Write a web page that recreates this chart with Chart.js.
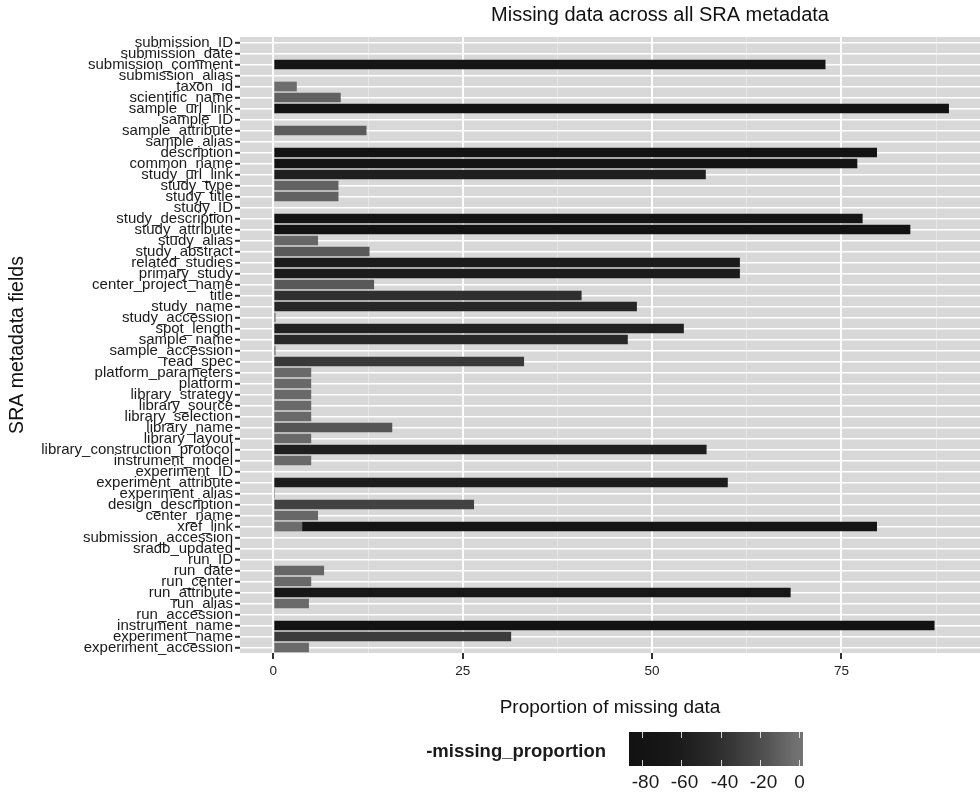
<!DOCTYPE html>
<html>
<head>
<meta charset="utf-8">
<script src="https://cdn.jsdelivr.net/npm/chart.js@4/dist/chart.umd.min.js"></script>
<style>
  body { margin: 0; background: #fff; }
  #wrap { position: relative; width: 980px; height: 795px; }
</style>
</head>
<body>
<div id="wrap"><canvas id="missing_chart"></canvas></div>
<script>
// data
const fields = [
  'submission_ID', 'submission_date', 'submission_comment', 'submission_alias', 'taxon_id',
  'scientific_name', 'sample_url_link', 'sample_ID', 'sample_attribute', 'sample_alias',
  'description', 'common_name', 'study_url_link', 'study_type', 'study_title',
  'study_ID', 'study_description', 'study_attribute', 'study_alias', 'study_abstract',
  'related_studies', 'primary_study', 'center_project_name', 'title', 'study_name',
  'study_accession', 'spot_length', 'sample_name', 'sample_accession', 'read_spec',
  'platform_parameters', 'platform', 'library_strategy', 'library_source', 'library_selection',
  'library_name', 'library_layout', 'library_construction_protocol', 'instrument_model', 'experiment_ID',
  'experiment_attribute', 'experiment_alias', 'design_description', 'center_name', 'xref_link',
  'submission_accession', 'sradb_updated', 'run_ID', 'run_date', 'run_center',
  'run_attribute', 'run_alias', 'run_accession', 'instrument_name', 'experiment_name',
  'experiment_accession'
];

const missing = [
  0, 0, 72.9, 0, 3.1,
  8.9, 89.2, 0, 12.3, 0,
  79.7, 77.1, 57.1, 8.6, 8.6,
  0, 77.8, 84.1, 5.9, 12.7,
  61.6, 61.6, 13.3, 40.7, 48.0,
  0.3, 54.2, 46.8, 0.3, 33.1,
  5.0, 5.0, 5.0, 5.0, 5.0,
  15.7, 5.0, 57.2, 5.0, 0,
  60.0, 0.2, 26.5, 5.9, 3.8,
  0, 0, 0, 6.7, 5.0,
  68.3, 4.7, 0, 87.3, 31.4,
  4.7
];

// xref_link appears twice in the source table, second row stacks on the first
const missingExtra = fields.map(f => f === 'xref_link' ? 75.9 : null);

const xTicks      = [0, 25, 50, 75];
const legendTicks = [-80, -60, -40, -20, 0];

// colour scale for -missing_proportion
const maxMissing = 89.2;
const grayFor = (v) => {
    const t = Math.min(Math.max(v / maxMissing, 0), 1);
    const g = Math.round(18 + 98 * Math.pow(1 - t, 2));
    return `rgb(${g},${g},${g})`;
};

const FONT = "'Liberation Sans', Arial, sans-serif";

// panel background, title and colour bar
const decorations = {
    id: 'decorations',
    beforeDraw(chart){
        const {ctx, chartArea: a} = chart;
        ctx.save();
        ctx.fillStyle = '#d8d8d8';
        ctx.fillRect(a.left, a.top, a.right - a.left, a.bottom - a.top);
        ctx.restore();
    },
    afterDraw(chart){
        const ctx = chart.ctx;
        ctx.save();
        ctx.fillStyle = '#111';
        ctx.font = `20px ${FONT}`;
        ctx.textAlign = 'center';
        ctx.textBaseline = 'middle';
        ctx.fillText('Missing data across all SRA metadata', 660, 15);

        // colour bar
        const x0 = 629, x1 = 803, y0 = 732, y1 = 766;
        const zeroX = 799, pxPer = 1.959;
        const grad = ctx.createLinearGradient(x0, 0, x1, 0);
        for(let i = 0; i <= 20; i++){
            const f = i / 20;
            const x = x0 + f * (x1 - x0);
            const v = -(x - zeroX) / pxPer;
            grad.addColorStop(f, grayFor(v));
        }
        ctx.fillStyle = grad;
        ctx.fillRect(x0, y0, x1 - x0, y1 - y0);

        ctx.strokeStyle = 'rgba(255,255,255,0.8)';
        ctx.lineWidth = 1;
        ctx.fillStyle = '#1a1a1a';
        ctx.font = `19px ${FONT}`;
        legendTicks.forEach(v => {
            const x = Math.round(zeroX + v * pxPer) + 0.5;
            ctx.beginPath();
            ctx.moveTo(x, y0); ctx.lineTo(x, y0 + 6);
            ctx.moveTo(x, y1 - 6); ctx.lineTo(x, y1);
            ctx.stroke();
            ctx.fillText(String(v), v < 0 ? x + 3 : x, 783);
        });

        ctx.font = `bold 18.5px ${FONT}`;
        ctx.textAlign = 'right';
        ctx.fillText('-missing_proportion', 606, 752);
        ctx.restore();
    }
};

const missing_chart = document.getElementById('missing_chart');

var missing_chart_ref = new Chart(missing_chart, {
    type: 'bar',
    data: {
        labels: fields,
        datasets: [{
            label: 'missing_proportion',
            data: missing,
            backgroundColor: missing.map(grayFor),
            borderWidth: 0,
            barPercentage: 0.88,
            categoryPercentage: 1
        },{
            label: 'missing_proportion_extra',
            data: missingExtra,
            backgroundColor: missingExtra.map(v => v == null ? 'rgba(0,0,0,0)' : grayFor(v)),
            borderWidth: 0,
            barPercentage: 0.88,
            categoryPercentage: 1
        }]
    },
    options: {
        indexAxis: 'y',
        responsive: true,
        maintainAspectRatio: false,
        animation: false,
        layout: { padding: { top: 37, right: 0, bottom: 76, left: 0 } },
        plugins: {
            legend: { display: false },
            tooltip: { enabled: false },
            title: { display: false }
        },
        scales: {
            x: {
                type: 'linear',
                stacked: true,
                min: -4.4,
                max: 93.3,
                border: { display: false },
                grid: {
                    color: ctx => ctx.tick && ctx.tick.value % 25 === 0 ? '#ffffff' : '#e6e6e6',
                    lineWidth: ctx => ctx.tick && ctx.tick.value % 25 === 0 ? 2 : 1,
                    tickColor: ctx => ctx.tick && ctx.tick.value % 25 === 0 ? '#333' : 'rgba(0,0,0,0)',
                    tickLength: 6,
                    tickWidth: 2
                },
                ticks: {
                    stepSize: 12.5,
                    includeBounds: false,
                    autoSkip: false,
                    maxRotation: 0,
                    padding: 4,
                    color: '#222',
                    font: { family: FONT, size: 13.5 },
                    callback: v => xTicks.includes(v) ? String(v) : ''
                },
                title: {
                    display: true,
                    text: 'Proportion of missing data',
                    color: '#111',
                    font: { family: FONT, size: 19 },
                    padding: { top: 13, bottom: 0 }
                }
            },
            y: {
                type: 'category',
                stacked: true,
                border: { display: false },
                grid: {
                    offset: false,
                    color: '#ffffff',
                    lineWidth: 1.6,
                    tickColor: '#333',
                    tickLength: 5,
                    tickWidth: 2
                },
                ticks: {
                    autoSkip: false,
                    padding: 2,
                    color: '#1a1a1a',
                    font: { family: FONT, size: 15 }
                },
                title: {
                    display: true,
                    text: 'SRA metadata fields',
                    color: '#111',
                    font: { family: FONT, size: 19.5 },
                    padding: { top: 6, bottom: 0 }
                },
                afterFit(scale){ scale.width = 240; }
            }
        }
    },
    plugins: [decorations]
});
</script>
</body>
</html>
